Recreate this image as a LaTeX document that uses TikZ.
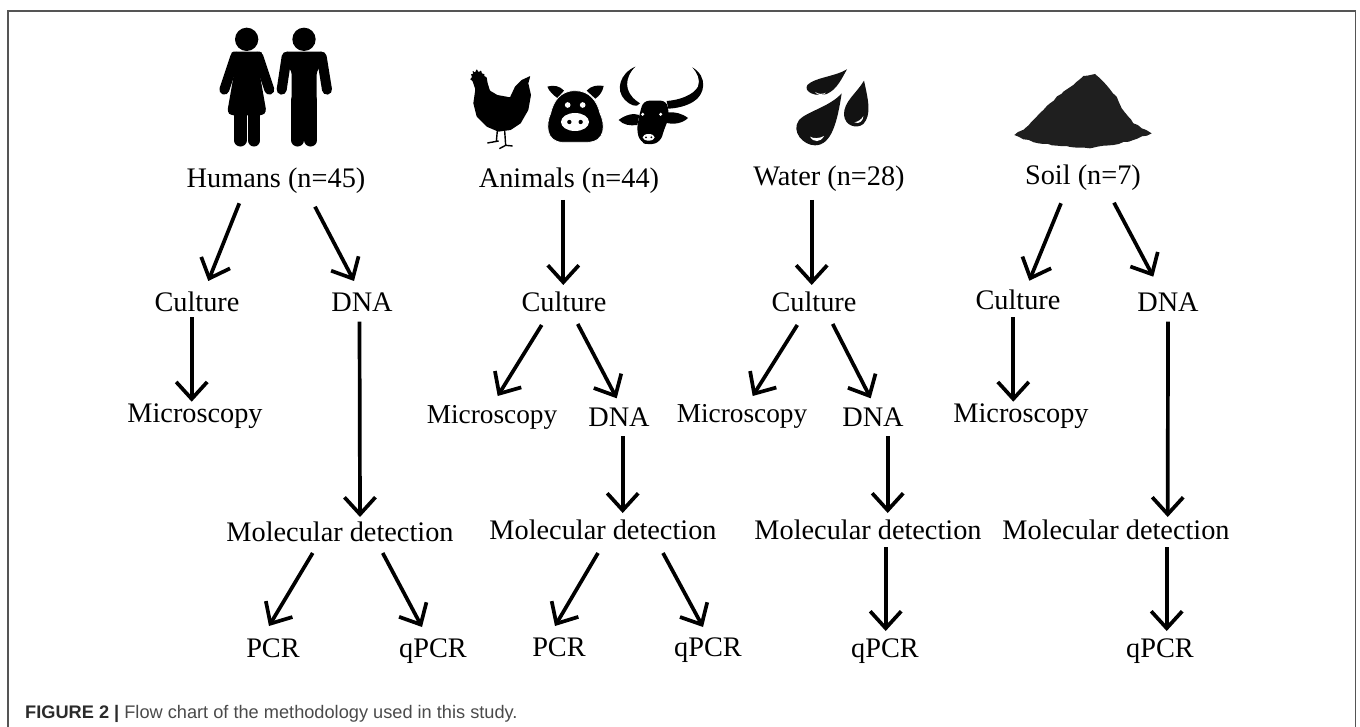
\documentclass[tikz,border=0pt]{standalone}
\usepackage{fontspec}
\setmainfont{Liberation Serif}
\newfontfamily\capfont{Liberation Sans}
\usetikzlibrary{arrows.meta,decorations.pathmorphing}
\definecolor{framegray}{HTML}{555555}
\definecolor{capdark}{HTML}{2B2B2B}
\definecolor{capgray}{HTML}{4A4A4A}
\definecolor{dropblack}{HTML}{121212}
\definecolor{soilblack}{HTML}{1F1F1F}
\tikzset{
  lab/.style={anchor=base,inner sep=0pt,font=\fontsize{28.3}{30}\selectfont,text=black},
  labs/.style={anchor=base,inner sep=0pt,font=\fontsize{27.3}{30}\selectfont,text=black},
  flow/.style={draw=black,line width=3.7pt,-{Straight Barb[length=17pt,width=31pt,line width=3.7pt]}},
  icon/.style={shift={(#1)},x=0.33333pt,y=-0.33333pt},
  limb/.style={line width=10pt,line cap=round},
  leg/.style={line width=12.4pt,line cap=round},
}
\newcommand{\arr}[6]{\draw[flow] ([shift={(#2,#3)}]#1.base) -- ([shift={(#5,#6)}]#4.base);}
\begin{document}
\begin{tikzpicture}[x=1pt,y=-1pt]
\useasboundingbox (0,0) rectangle (1360,727);
\draw[framegray,line width=1.5pt] (8,727) -- (8,11) -- (1355.5,11) -- (1355.5,727);

% humans icon
\begin{scope}[icon={180,0}]
\fill (200,118) circle (35);
\fill (372,118) circle (35);
% woman
\draw[limb] (166,170) -- (133,269);
\draw[limb] (235,170) -- (268,269);
\fill[rounded corners=3pt] (152,155) -- (248,155) -- (238,215) -- (259,335) -- (248,346) -- (152,346) -- (142,335) -- (163,215) -- cycle;
\draw[leg] (181,340) -- (181,421);
\draw[leg] (222,340) -- (222,421);
% man
\draw[limb] (320,170) -- (305,269);
\draw[limb] (425,170) -- (441,269);
\fill[rounded corners=3pt] (312,155) -- (433,155) -- (438,175) -- (410,215) -- (410,312) -- (335,312) -- (335,215) -- (307,175) -- cycle;
\draw[leg] (353,300) -- (353,421);
\draw[leg] (392,300) -- (392,421);
\end{scope}

% chicken
\begin{scope}[icon={460,60}]
\fill[rounded corners=0.6pt] (30,58) -- (36,52) -- (33,42) -- (39,43) -- (38,32) -- (45,38) -- (50,27) -- (56,37) -- (63,31) -- (66,41) -- (74,42) -- (72,48) -- (80,52) -- (83,70) -- (90,92) -- (112,105) -- (150,112) -- (165,80) -- (185,60) -- (211,48) -- (205,70) -- (213,105) -- (205,150) -- (182,190) -- (152,210) -- (115,215) -- (80,200) -- (50,170) -- (40,130) -- (46,88) -- (40,70) -- (37,62) -- cycle;
\draw[line width=1.4pt] (112,212) -- (109,245) (82,249) -- (116,243) (134,212) -- (137,256) (118,266) -- (137,256) -- (158,258);
% pig
\fill (262,80) .. controls (280,74) and (300,78) .. (312,92) -- (292,114) .. controls (280,105) and (268,95) .. (262,80) -- cycle;
\fill (380,92) .. controls (392,78) and (412,74) .. (431,78) .. controls (428,95) and (418,108) .. (406,116) -- cycle;
\fill[draw=white,line width=0.7pt] (345,92) .. controls (300,92) and (280,125) .. (272,160) .. controls (258,190) and (255,247) .. (310,247) -- (380,247) .. controls (440,247) and (435,190) .. (420,160) .. controls (412,125) and (390,92) .. (345,92) -- cycle;
\fill[white] (323,135) circle (8.5) (368,135) circle (8.5);
\fill[white] (345,186) ellipse (42 and 27);
\fill (328,186) circle (6.5) (362,186) circle (6.5);
% bull
\fill (526,20) .. controls (480,40) and (465,90) .. (495,120) .. controls (510,135) and (530,145) .. (540,130) .. controls (525,120) and (510,110) .. (503,85) .. controls (497,60) and (510,35) .. (526,20) -- cycle;
\fill (697,22) .. controls (745,50) and (735,105) .. (700,125) .. controls (680,138) and (650,145) .. (625,146) -- (620,123) .. controls (660,120) and (700,105) .. (714,80) .. controls (722,60) and (712,38) .. (697,22) -- cycle;
\fill[rounded corners=6pt] (550,122) -- (620,122) -- (628,170) -- (610,215) -- (602,245) -- (566,256) -- (540,245) -- (530,210) -- (538,165) -- cycle;
\fill (476,180) .. controls (495,165) and (520,158) .. (538,165) -- (532,195) .. controls (510,198) and (490,195) .. (476,180) -- cycle;
\fill (622,157) .. controls (645,155) and (665,160) .. (684,174) .. controls (668,190) and (640,195) .. (618,188) -- cycle;
\fill[white] (548,163) circle (5) (602,163) circle (5);
\fill[white] (566,232) ellipse (18 and 10);
\fill (558,232) circle (3) (574,232) circle (3);
\end{scope}

% water drops
\begin{scope}[icon={700,50}]
\fill[dropblack] (441,58) .. controls (405,80) and (345,82) .. (322,105) .. controls (310,125) and (345,142) .. (380,132) .. controls (412,118) and (425,85) .. (441,58) -- cycle;
\fill[dropblack] (425,130) .. controls (390,170) and (320,185) .. (297,210) .. controls (272,245) and (310,286) .. (345,286) .. controls (395,286) and (412,215) .. (425,130) -- cycle;
\fill[dropblack] (492,92) .. controls (470,130) and (430,155) .. (432,195) .. controls (435,228) and (470,238) .. (490,222) .. controls (515,195) and (505,150) .. (492,92) -- cycle;
\fill[white] (345,126) .. controls (355,133) and (368,133) .. (378,128) .. controls (370,138) and (352,138) .. (345,126) -- cycle;
\fill[white] (330,260) .. controls (340,266) and (358,266) .. (372,258) .. controls (362,278) and (340,278) .. (330,260) -- cycle;
\fill[white] (463,217) .. controls (475,215) and (485,208) .. (490,198) .. controls (490,212) and (478,224) .. (463,217) -- cycle;
\end{scope}

% soil
\begin{scope}[icon={700,50}]
\fill[soilblack,decorate,decoration={random steps,segment length=5pt,amplitude=0.7pt}] (943,255) -- (975,235) -- (1010,200) -- (1050,160) -- (1090,125) -- (1120,105) -- (1150,78) -- (1185,72) -- (1210,95) -- (1250,140) -- (1265,175) -- (1300,220) -- (1355,250) -- (1300,270) -- (1240,285) -- (1170,295) -- (1100,288) -- (1030,282) -- (970,268) -- cycle;
\end{scope}

% labels
\node[lab] (hH) at (276,188) {Humans (n=45)};
\node[lab] (hA) at (569,188) {Animals (n=44)};
\node[lab] (hW) at (829,186) {Water (n=28)};
\node[lab] (hS) at (1083,185) {Soil (n=7)};

\node[lab] (hc) at (197,312) {Culture};
\node[lab] (hd) at (362,312) {DNA};
\node[lab] (hm) at (195,422) {Microscopy};
\node[lab] (hmol) at (340,541) {Molecular detection};
\node[lab] (hp) at (273,657) {PCR};
\node[lab] (hq) at (433,657) {qPCR};

\node[lab] (ac) at (564,312) {Culture};
\node[labs] (am) at (492,423) {Microscopy};
\node[lab] (ad) at (619,426) {DNA};
\node[lab] (amol) at (603,539) {Molecular detection};
\node[lab] (ap) at (559,656) {PCR};
\node[lab] (aq) at (708,656) {qPCR};

\node[lab] (wc) at (814,312) {Culture};
\node[labs] (wm) at (742,422) {Microscopy};
\node[lab] (wd) at (873,426) {DNA};
\node[lab] (wmol) at (868,539) {Molecular detection};
\node[lab] (wq) at (885,657) {qPCR};

\node[lab] (sc) at (1018,310) {Culture};
\node[lab] (sd) at (1168,312) {DNA};
\node[lab] (sm) at (1021,422) {Microscopy};
\node[lab] (smol) at (1116,539) {Molecular detection};
\node[lab] (sq) at (1160,657) {qPCR};

% connectors
\arr{hH}{-36.7}{15.3}{hc}{11.3}{-31}
\arr{hH}{39}{18.7}{hd}{-8}{-31}
\arr{hc}{-5.3}{5.3}{hm}{-3.3}{-20.3}
\arr{hd}{-2.5}{9.7}{hmol}{20}{-24}
\arr{hmol}{-27.3}{12}{hp}{-4}{-31}
\arr{hmol}{42.7}{12}{hq}{-11}{-30}

\arr{hA}{-5.7}{12}{ac}{-0.7}{-27}
\arr{ac}{-22.3}{13}{am}{5.7}{-27}
\arr{ac}{13.7}{12}{ad}{-2.3}{-27.7}
\arr{ad}{3.7}{10}{amol}{19.7}{-26}
\arr{amol}{-5}{14}{ap}{-4}{-30}
\arr{amol}{60}{14}{aq}{-5}{-29}

\arr{hW}{-17.3}{14}{wc}{-2.3}{-27}
\arr{wc}{-16.7}{13}{wm}{10.7}{-26}
\arr{wc}{18.7}{12}{wd}{-2.3}{-27.7}
\arr{wd}{14.7}{10}{wmol}{19.7}{-26}
\arr{wmol}{17.7}{8}{wq}{0.7}{-26}

\arr{hS}{-22}{18.3}{sc}{11.3}{-29.3}
\arr{hS}{31}{17.7}{sd}{-14.7}{-35.3}
\arr{sc}{-4.7}{7.3}{sm}{-7.7}{-20.3}
\arr{sd}{0}{9.7}{smol}{51.7}{-22}
\arr{smol}{50.7}{8}{sq}{6.7}{-26}

% caption
\node[anchor=base west,inner sep=0pt,font=\capfont\fontsize{18.2}{20}\selectfont,text=capgray] (cap) at (25,718) {\textcolor{capdark}{\textbf{FIGURE 2 |}} Flow chart of the methodology used in this study.};
\end{tikzpicture}
\end{document}
